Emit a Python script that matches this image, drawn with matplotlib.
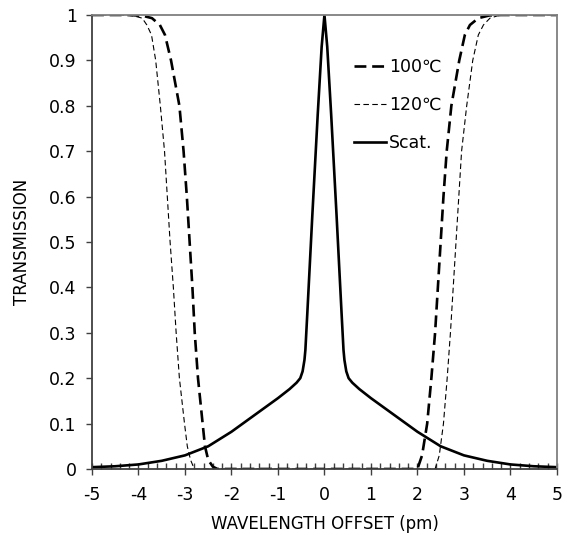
import numpy as np
import matplotlib as mpl
mpl.use('Agg')
import matplotlib.pyplot as plt
from matplotlib.ticker import MultipleLocator

plt.rcParams['font.family'] = ['DejaVu Sans', 'Noto Sans CJK JP']
plt.rcParams['axes.unicode_minus'] = False

fontsize = 12.5
spine_col = '#7f7f7f'

## filter transmission at 100C
x_100 = [-5.0, -4.2, -3.9, -3.71, -3.54, -3.43, -3.30, -3.12, -3.03, -2.96, -2.90,
         -2.84, -2.79, -2.72, -2.62, -2.57, -2.50, -2.40, -2.30,
         2.00, 2.10, 2.21, 2.30, 2.38, 2.44, 2.50, 2.56, 2.63, 2.73, 2.90,
         3.02, 3.13, 3.31, 3.55, 3.8, 5.0]
y_100 = [1.0, 1.0, 0.998, 0.993, 0.978, 0.956, 0.90, 0.80, 0.70, 0.60, 0.50,
         0.40, 0.30, 0.20, 0.10, 0.05, 0.02, 0.005, 0.0,
         0.0, 0.03, 0.10, 0.20, 0.30, 0.40, 0.50, 0.60, 0.70, 0.80, 0.90,
         0.956, 0.978, 0.993, 0.999, 1.0, 1.0]

## filter transmission at 120C
x_120 = [-5.0, -4.4, -4.1, -3.92, -3.82, -3.72, -3.63, -3.53, -3.44, -3.38, -3.32,
         -3.25, -3.19, -3.12, -3.01, -2.95, -2.88, -2.80,
         2.38, 2.47, 2.56, 2.64, 2.71, 2.77, 2.83, 2.89, 2.95, 3.06, 3.19,
         3.31, 3.42, 3.56, 3.75, 4.0, 5.0]
y_120 = [1.0, 1.0, 0.998, 0.993, 0.978, 0.956, 0.90, 0.80, 0.70, 0.60, 0.50,
         0.40, 0.30, 0.20, 0.10, 0.05, 0.02, 0.0,
         0.0, 0.03, 0.10, 0.20, 0.30, 0.40, 0.50, 0.60, 0.70, 0.80, 0.90,
         0.956, 0.978, 0.993, 0.999, 1.0, 1.0]

## scattering spectrum
x_scat = [-5.0, -4.5, -4.0, -3.5, -3.0, -2.5, -2.0, -1.5, -1.0, -0.75, -0.6,
          -0.52, -0.47, -0.43, -0.41, -0.37, -0.26, -0.145, -0.06, 0.0,
          0.06, 0.145, 0.26, 0.37, 0.41, 0.43, 0.47, 0.52,
          0.6, 0.75, 1.0, 1.5, 2.0, 2.5, 3.0, 3.5, 4.0, 4.5, 5.0]
y_scat = [0.004, 0.006, 0.010, 0.018, 0.030, 0.050, 0.082, 0.119, 0.156, 0.176, 0.190,
          0.200, 0.215, 0.240, 0.262, 0.340, 0.560, 0.780, 0.930, 1.0,
          0.930, 0.780, 0.560, 0.340, 0.262, 0.240, 0.215, 0.200,
          0.190, 0.176, 0.156, 0.119, 0.082, 0.050, 0.030, 0.018, 0.010, 0.006, 0.004]

xticks = [-5, -4, -3, -2, -1, 0, 1, 2, 3, 4, 5]
yticks = [0, 0.1, 0.2, 0.3, 0.4, 0.5, 0.6, 0.7, 0.8, 0.9, 1]
yticklabels = ['0', '0.1', '0.2', '0.3', '0.4', '0.5', '0.6', '0.7', '0.8', '0.9', '1']

fig = plt.figure(figsize=(5.7, 5.35), dpi=100)
ax = fig.add_axes([0.1614, 0.1234, 0.8156, 0.8486])

ax.plot(x_100, y_100, color='black', lw=1.9, ls=(0, (4.5, 2.2)), label='100℃')
ax.plot(x_120, y_120, color='black', lw=0.8, ls=(0, (5, 3)), label='120℃')
ax.plot(x_scat, y_scat, color='black', lw=1.9, label='Scat.')

ax.set_xlim(-5, 5)
ax.set_ylim(0, 1)
ax.set_xticks(xticks)
ax.set_xticklabels([str(v) for v in xticks], fontsize=fontsize)
ax.set_yticks(yticks)
ax.set_yticklabels(yticklabels, fontsize=fontsize)
ax.xaxis.set_minor_locator(MultipleLocator(0.2))
ax.tick_params(axis='x', which='major', direction='inout', length=9, width=1, color='#404040', pad=8)
ax.tick_params(axis='x', which='minor', direction='in', length=4, width=1, color='#404040')
ax.tick_params(axis='y', which='major', direction='out', length=4, width=1, color='#404040', pad=7)

for s in ax.spines.values():
    s.set_color(spine_col)
    s.set_linewidth(1.3)
ax.spines['left'].set_color('#404040')
ax.spines['bottom'].set_color('#404040')

ax.set_xlabel('WAVELENGTH OFFSET (pm)', fontsize=12, labelpad=8)
ax.set_ylabel('TRANSMISSION', fontsize=12, labelpad=13)

ax.legend(loc='upper left', bbox_to_anchor=(0.53, 0.94), frameon=False,
          fontsize=fontsize, handlelength=1.85, handletextpad=0.15, labelspacing=1.15)

plt.savefig('out.png', dpi=100)
